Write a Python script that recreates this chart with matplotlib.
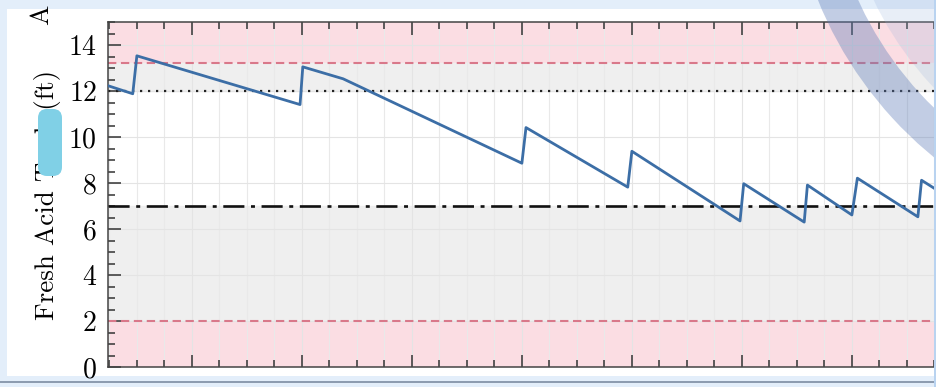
import matplotlib
matplotlib.use("Agg")
import matplotlib.pyplot as plt
from matplotlib.patches import Rectangle, FancyBboxPatch, Wedge
from matplotlib.transforms import IdentityTransform
from matplotlib.ticker import MultipleLocator

plt.rcParams['font.family'] = 'serif'
plt.rcParams['font.serif'] = ['cmr10']
plt.rcParams['mathtext.fontset'] = 'cm'
plt.rcParams['axes.formatter.use_mathtext'] = True

# tank level over time (hours), refills show as the steep jumps
hours = [5.7, 11.1, 12.0, 47.6, 48.2, 57.0, 96.0, 96.9, 119.1, 120.0,
         143.6, 144.4, 157.6, 158.3, 168.0, 169.2, 182.4, 183.2, 187.0]
level_ft = [12.23, 11.88, 13.53, 11.41, 13.05, 12.53, 8.86, 10.41, 7.82, 9.38,
            6.35, 7.97, 6.30, 7.91, 6.61, 8.21, 6.53, 8.12, 7.64]

# operating limits (ft)
low_alarm = 2.0
high_alarm = 13.2
reorder_level = 7.0
target_level = 12.0
y_max = 15.0

W, H = 936, 387
fig = plt.figure(figsize=(W / 100, H / 100), dpi=100)
fig.patch.set_facecolor('#e3eefa')
px = IdentityTransform()

# white page behind the plot
fig.add_artist(Rectangle((7, H - 376), 927, 367, transform=px,
                         facecolor='white', edgecolor='none', zorder=-5))
fig.add_artist(Rectangle((0, H - 383), W, 2, transform=px,
                         facecolor='#8d9cb0', edgecolor='none', zorder=-4))

x0 = hours[0]
x1 = 200.0
px_per_h = 110 / 24
ax_w = (x1 - x0) * px_per_h
ax = fig.add_axes([108 / W, (H - 367) / H, ax_w / W, 345 / H])
ax.set_xlim(x0, x1)
ax.set_ylim(0, y_max)

# bands
ax.axhspan(0, low_alarm, color='#fbdde3', zorder=0)
ax.axhspan(high_alarm, y_max, color='#fbdde3', zorder=0)
ax.axhspan(low_alarm, reorder_level, color='#efefef', zorder=0)
ax.axhspan(target_level, high_alarm, color='#efefef', zorder=0)

ax.grid(True, which='major', color='#e4e4e4', lw=0.8, zorder=0.5)
ax.grid(True, which='minor', axis='x', color='#e9e9e9', lw=0.8, zorder=0.5)

ax.axhline(low_alarm, color='#d9788a', lw=1.5, ls=(0, (4, 2.2)), zorder=2)
ax.axhline(high_alarm, color='#d9788a', lw=1.5, ls=(0, (4, 2.2)), zorder=2)
ax.axhline(target_level, color='#222222', lw=1.6, ls=(0, (1, 2.6)), zorder=2)
ax.axhline(reorder_level, color='#111111', lw=1.9, ls=(0, (8, 2.5, 1.5, 2.5)), zorder=2)

ax.plot(hours, level_ft, color='#3c6ea6', lw=2.0, zorder=3)

ax.xaxis.set_major_locator(MultipleLocator(24))
ax.xaxis.set_minor_locator(MultipleLocator(6))
ax.yaxis.set_major_locator(MultipleLocator(2))
ax.yaxis.set_minor_locator(MultipleLocator(0.5))
ax.tick_params(which='both', direction='in', top=True, right=True,
               color='#333333', width=1.1, labelbottom=False)
ax.tick_params(which='major', length=9, labelsize=20, pad=8)
ax.tick_params(which='minor', length=5)
for s in ax.spines.values():
    s.set_color('#444444')
    s.set_linewidth(1.1)

ax.set_ylabel('Fresh Acid Tank (ft)', fontsize=19.5)
ax.yaxis.set_label_coords(-47 / ax_w, 0.5)

fig.text(41, H - 15, 'A', transform=px, rotation=90, fontsize=19.5,
         ha='center', va='center')

# marker scribble over the label
fig.add_artist(FancyBboxPatch((40, H - 174), 20, 63, transform=px,
                              boxstyle='round,pad=2,rounding_size=9',
                              facecolor='#80d0e6', edgecolor='none', zorder=10))

# translucent swoosh in the top-right corner
fig.add_artist(Wedge((1183, H + 148), 343, 195, 250, width=56, transform=px,
                     facecolor='#9ab2dc', alpha=0.22, edgecolor='none', zorder=9))
fig.add_artist(Wedge((1183, H + 148), 394, 195, 250, width=37, transform=px,
                     facecolor='#5f7cb8', alpha=0.38, edgecolor='none', zorder=9))
fig.add_artist(Rectangle((934, 0), 2, H, transform=px,
                         facecolor='#b9d3f0', edgecolor='none', zorder=9))

fig.savefig('out.png', dpi=100, facecolor=fig.get_facecolor())
